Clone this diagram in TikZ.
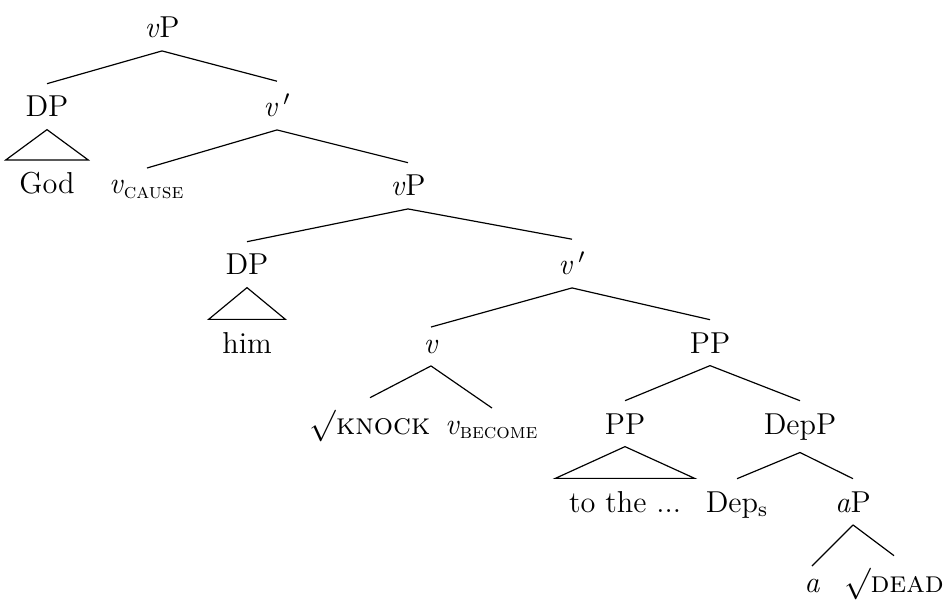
\documentclass[tikz,border=0pt]{standalone}
\usepackage{amsmath}
\usepackage{tikz}
\usetikzlibrary{positioning,calc}

\tikzset{
  cat/.style={anchor=base, inner xsep=0pt, inner ysep=4.6pt},
  roofleaf/.style={cat, inner xsep=5pt},
  branch/.style={line width=0.45pt}
}
\newcommand{\vv}{\textit{v}}

\begin{document}
\begin{tikzpicture}[x=0.38pt, y=-0.38pt, font=\fontsize{11.5}{14}\selectfont]
\useasboundingbox (0,0) rectangle (944,599);

% --- upper vP ---
\node[cat] (vpA)   at (162,38)  {\vv P};
\node[cat] (dpA)   at (47,117)  {DP};
\node[roofleaf] (god) at (47,194) {God};
\node[cat] (vbarA) at (277,117) {\vv$\,'$};
\node[cat] (vcause) at (147,194) {\vv\textsubscript{\textsc{cause}}};

% --- lower vP ---
\node[cat] (vpB)   at (408,196) {\vv P};
\node[cat] (dpB)   at (247,275) {DP};
\node[roofleaf] (him) at (247,353) {him};
\node[cat] (vbarB) at (572,275) {\vv$\,'$};
\node[cat] (vhead) at (431,353) {\vv};
\node[cat] (knock) at (370,434) {$\surd$\textsc{knock}};
\node[cat] (vbecome) at (492,434) {\vv\textsubscript{\textsc{become}}};

% --- PP and DepP ---
\node[cat] (ppA)   at (710,353) {PP};
\node[cat] (ppB)   at (625,434) {PP};
\node[roofleaf] (tothe) at (625,512) {to the ...};
\node[cat] (depp)  at (800,434) {DepP};
\node[cat] (deps)  at (737,512) {Dep\textsubscript{s}};
\node[cat] (ap)    at (853,512) {\textit{a}P};
\node[cat] (ahead) at (812,592) {\textit{a}};
\node[cat] (dead)  at (894,592) {$\surd$\textsc{dead}};

% branches
\foreach \p/\c in {vpA/dpA, vpA/vbarA, vbarA/vcause, vbarA/vpB,
                   vpB/dpB, vpB/vbarB, vbarB/vhead, vbarB/ppA,
                   vhead/knock, vhead/vbecome, ppA/ppB, ppA/depp,
                   depp/deps, depp/ap, ap/ahead, ap/dead} {
  \draw[branch] (\p.south) -- (\c.north);
}

% roofs
\foreach \p/\c in {dpA/god, dpB/him, ppB/tothe} {
  \draw[branch] (\p.south) -- (\c.north west) -- (\c.north east) -- cycle;
}
\end{tikzpicture}
\end{document}
